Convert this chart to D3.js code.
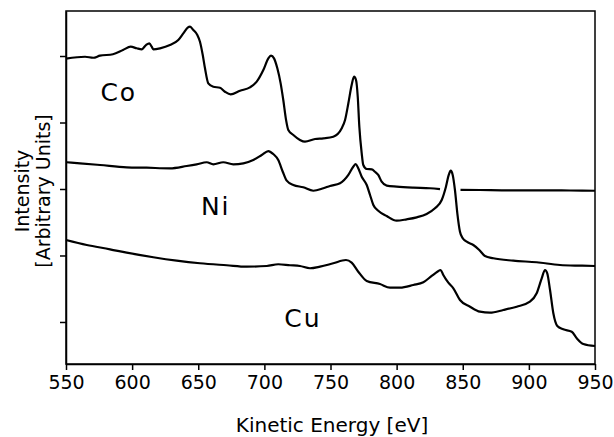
<!DOCTYPE html>
<html>
<head>
<meta charset="utf-8">
<script src="https://cdn.jsdelivr.net/npm/d3@7"></script>
<style>
  html, body { margin: 0; padding: 0; background: #fff; }
  svg { display: block; }
  text { font-family: "DejaVu Sans", sans-serif; fill: #000; }
</style>
</head>
<body>
<svg id="chart" width="614" height="437"></svg>
<script>
// ---- data ----
const xTicks = [550, 600, 650, 700, 750, 800, 850, 900, 950];
const yTicks = [0, 1, 2, 3, 4];
const xLabel = "Kinetic Energy [eV]";
const yLabelLines = ["Intensity", "[Arbitrary Units]"];
const seriesNames = ["Co", "Ni", "Cu"];

const coEnergy = [550, 564.4, 570.6, 575.7, 585.5, 593.1, 598.9, 603.5, 607.2, 610.5, 613.0, 614.8, 616.0, 621.1, 628.6, 634.9, 638.7, 642.0, 643.8, 646.3, 649.3, 651.3, 653.4, 655.1, 657.6, 661.4, 666.4, 670.2, 674.5, 681.6, 689.1, 694.2, 699.2, 703.0, 705.0, 707.3, 709.8, 712.3, 714.3, 716.4, 718.1, 721.9, 726.9, 730.7, 738.3, 744.6, 752.1, 758.5, 761.0, 763.5, 766.0, 767.8, 769.3, 770.6, 771.8, 773.6, 774.8, 777.4, 781.2, 783.6, 786.1, 788.7, 792.5, 800.0, 812.6, 825.2, 832.8, 840, 848.3, 863.0, 885.7, 908.4, 931.1, 950];
const coIntensity = [3.962, 3.989, 3.974, 4.005, 4.026, 4.090, 4.140, 4.116, 4.101, 4.165, 4.191, 4.140, 4.101, 4.116, 4.165, 4.241, 4.341, 4.426, 4.441, 4.391, 4.316, 4.215, 4.015, 3.815, 3.589, 3.538, 3.523, 3.463, 3.424, 3.478, 3.529, 3.614, 3.789, 3.965, 4.005, 3.965, 3.815, 3.589, 3.338, 3.038, 2.887, 2.812, 2.737, 2.711, 2.752, 2.762, 2.786, 2.913, 3.038, 3.289, 3.564, 3.689, 3.639, 3.388, 2.937, 2.537, 2.361, 2.301, 2.296, 2.260, 2.211, 2.110, 2.050, 2.035, 2.020, 2.011, 1.997, null, 1.988, 1.985, 1.980, 1.980, 1.977, 1.974];

const niEnergy = [550.5, 560.6, 575.7, 595.9, 611.0, 628.6, 641.3, 648.8, 656.4, 661.4, 668.9, 676.5, 684.1, 691.6, 698.0, 703.0, 706.7, 710.5, 713.9, 716.9, 721.9, 729.4, 737.0, 744.6, 749.6, 757.2, 763.5, 767.2, 769.1, 771.0, 773.6, 777.4, 779.9, 782.4, 786.1, 792.5, 800.0, 807.6, 815.2, 822.7, 829.0, 834.1, 837.3, 839.4, 840.9, 842.4, 844.1, 845.9, 847.9, 850.0, 853.0, 858.0, 862.5, 866.8, 873.1, 888.2, 905.9, 923.5, 938.7, 950];
const niIntensity = [2.402, 2.386, 2.361, 2.326, 2.320, 2.311, 2.346, 2.371, 2.402, 2.371, 2.402, 2.371, 2.386, 2.436, 2.511, 2.571, 2.526, 2.436, 2.260, 2.125, 2.060, 2.026, 1.974, 2.011, 2.045, 2.086, 2.211, 2.335, 2.376, 2.311, 2.185, 2.060, 1.910, 1.759, 1.674, 1.594, 1.523, 1.544, 1.574, 1.624, 1.710, 1.835, 2.035, 2.211, 2.275, 2.211, 1.985, 1.635, 1.358, 1.259, 1.208, 1.158, 1.083, 0.992, 0.958, 0.922, 0.898, 0.857, 0.847, 0.842];

const cuEnergy = [550, 565.7, 583.3, 595.9, 616.0, 633.7, 651.3, 671.5, 686.6, 701.8, 710.5, 719.4, 726.9, 734.5, 742.1, 752.1, 761.7, 766.0, 771.0, 777.4, 787.4, 795.0, 802.6, 812.6, 820.2, 826.5, 830.8, 833.3, 835.3, 839.1, 842.9, 847.9, 855.5, 863.0, 870.6, 880.7, 890.8, 900.8, 905.9, 909.7, 912.2, 913.9, 916.0, 918.5, 921.5, 926.0, 932.4, 936.2, 941.2, 950];
const cuIntensity = [1.233, 1.158, 1.093, 1.042, 0.973, 0.922, 0.883, 0.853, 0.832, 0.842, 0.868, 0.853, 0.842, 0.808, 0.832, 0.883, 0.932, 0.892, 0.756, 0.617, 0.571, 0.516, 0.516, 0.556, 0.597, 0.692, 0.756, 0.782, 0.707, 0.591, 0.507, 0.331, 0.230, 0.155, 0.140, 0.180, 0.230, 0.305, 0.432, 0.657, 0.782, 0.732, 0.481, 0.131, -0.060, -0.110, -0.146, -0.245, -0.331, -0.361];

// label anchor points in data units
const labelEnergy = [576, 652, 715];
const labelIntensity = [3.33, 1.61, -0.08];

// ---- drawing ----
const svg = d3.select("#chart");
const L = 66, R = 595, T = 11, B = 364;

const x = d3.scaleLinear().domain([550, 950]).range([L, R]);
const y = d3.scaleLinear().domain([-0.632, 4.677]).range([B, T]);

// frame
svg.append("rect")
  .attr("x", L).attr("y", T).attr("width", R - L).attr("height", B - T)
  .attr("fill", "none").attr("stroke", "#000").attr("stroke-width", 1.5);

// x axis
const gx = svg.append("g").attr("transform", `translate(0,${B})`)
  .call(d3.axisBottom(x).tickValues(xTicks).tickSize(6).tickSizeOuter(0).tickPadding(6));
gx.select(".domain").attr("stroke-width", 1.5);
gx.selectAll(".tick line").attr("stroke-width", 1.5);
gx.selectAll(".tick text").style("font-size", "19px").style("font-family", "DejaVu Sans");

// y axis (ticks only)
const gy = svg.append("g").attr("transform", `translate(${L},0)`)
  .call(d3.axisLeft(y).tickValues(yTicks).tickSize(6).tickSizeOuter(0).tickFormat(""));
gy.select(".domain").attr("stroke-width", 1.5);
gy.selectAll(".tick line").attr("stroke-width", 1.5);

// curves
const line = d3.line()
  .defined(d => d[1] !== null)
  .x(d => x(d[0])).y(d => y(d[1]))
  .curve(d3.curveMonotoneX);

const series = [
  d3.zip(coEnergy, coIntensity),
  d3.zip(niEnergy, niIntensity),
  d3.zip(cuEnergy, cuIntensity)
];
svg.append("g").selectAll("path").data(series).join("path")
  .attr("d", line)
  .attr("fill", "none").attr("stroke", "#000").attr("stroke-width", 2.2)
  .attr("stroke-linejoin", "round");

// series labels
svg.append("g").selectAll("text").data(seriesNames).join("text")
  .attr("x", (d, i) => x(labelEnergy[i]))
  .attr("y", (d, i) => y(labelIntensity[i]))
  .style("font-size", "25px").style("letter-spacing", "2px")
  .text(d => d);

// x label
svg.append("text")
  .attr("x", 332).attr("y", 432)
  .attr("text-anchor", "middle")
  .style("font-size", "20px")
  .text(xLabel);

// y label (two lines, rotated)
const yl = svg.append("text")
  .attr("transform", "translate(29,191) rotate(-90)")
  .attr("text-anchor", "middle")
  .style("font-size", "19px");
yl.selectAll("tspan").data(yLabelLines).join("tspan")
  .attr("x", 0).attr("dy", (d, i) => i === 0 ? 0 : 21)
  .text(d => d);
</script>
</body>
</html>
